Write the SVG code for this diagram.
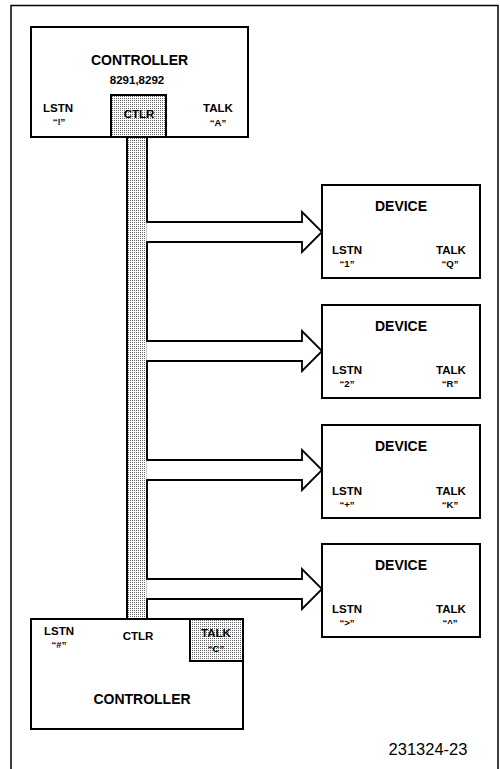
<svg xmlns="http://www.w3.org/2000/svg" width="500" height="769" viewBox="0 0 500 769">
<defs>
<pattern id="stipple" width="2" height="2" patternUnits="userSpaceOnUse">
<rect width="2" height="2" fill="#ffffff"/>
<rect width="1" height="1" fill="#666666"/>
</pattern>
<style>
.box{fill:#ffffff;stroke:#000;stroke-width:2}
.shade{fill:url(#stipple);stroke:#000;stroke-width:2}
.arrow{fill:#ffffff;stroke:#000;stroke-width:1.8;stroke-linejoin:miter}
.t{font-family:"Liberation Sans",Arial,Helvetica,sans-serif;font-weight:bold;fill:#000;text-anchor:middle}
.big{font-size:14px}
.mid{font-size:11.5px}
.sm{font-size:9.5px}
.fig{font-family:"Liberation Sans",Arial,Helvetica,sans-serif;font-size:16.5px;fill:#000;text-anchor:middle}
</style>
</defs>
<path d="M11,769 V5.5 H498 V769" fill="none" stroke="#000" stroke-width="1.5"/>
<g id="bus">
<rect x="127" y="137" width="20" height="482" class="shade" stroke-width="1.8"/>
</g>
<g id="connectors">
<path class="arrow" d="M146.2,222 H302 V212 L322,232 L302,252 V242 H146.2"/>
<path class="arrow" d="M146.2,341 H302 V331 L322,351 L302,371 V361 H146.2"/>
<path class="arrow" d="M146.2,460 H302 V450 L322,470 L302,490 V480 H146.2"/>
<path class="arrow" d="M146.2,579 H302 V569 L322,589 L302,609 V599 H146.2"/>
</g>
<g id="controller-top">
<rect x="31" y="27" width="217" height="110" class="box"/>
<text class="t big" x="139.5" y="65">CONTROLLER</text>
<text class="t" style="font-size:11.5px" x="137" y="84">8291,8292</text>
<text class="t mid" x="58" y="112">LSTN</text>
<text class="t sm" x="59" y="125">“!”</text>
<rect x="111" y="95" width="55" height="42" class="shade"/>
<text class="t mid" x="139" y="118">CTLR</text>
<text class="t mid" x="218" y="112">TALK</text>
<text class="t sm" x="218" y="126">“A”</text>
</g>
<g id="device-1">
<rect x="322" y="185" width="158" height="93" class="box"/>
<text class="t big" x="401" y="211">DEVICE</text>
<text class="t mid" x="347" y="254">LSTN</text>
<text class="t sm" x="347" y="267">“1”</text>
<text class="t mid" x="451" y="254">TALK</text>
<text class="t sm" x="450" y="267">“Q”</text>
</g>
<g id="device-2">
<rect x="322" y="305" width="158" height="93" class="box"/>
<text class="t big" x="401" y="331">DEVICE</text>
<text class="t mid" x="347" y="374">LSTN</text>
<text class="t sm" x="347" y="387">“2”</text>
<text class="t mid" x="451" y="374">TALK</text>
<text class="t sm" x="450" y="387">“R”</text>
</g>
<g id="device-3">
<rect x="322" y="425" width="158" height="93" class="box"/>
<text class="t big" x="401" y="451">DEVICE</text>
<text class="t mid" x="347" y="495">LSTN</text>
<text class="t sm" x="347" y="508">“+”</text>
<text class="t mid" x="451" y="495">TALK</text>
<text class="t sm" x="450" y="508">“K”</text>
</g>
<g id="device-4">
<rect x="322" y="544" width="158" height="93" class="box"/>
<text class="t big" x="401" y="570">DEVICE</text>
<text class="t mid" x="347" y="613">LSTN</text>
<text class="t sm" x="347" y="626">“&gt;”</text>
<text class="t mid" x="451" y="613">TALK</text>
<text class="t sm" x="450" y="626">“^”</text>
</g>
<g id="controller-bottom">
<rect x="31" y="619" width="212" height="110" class="box"/>
<rect x="190" y="619" width="53" height="42" class="shade"/>
<text class="t mid" x="59" y="635">LSTN</text>
<text class="t sm" x="59" y="648">“#”</text>
<text class="t mid" x="138" y="640">CTLR</text>
<text class="t mid" x="216" y="637">TALK</text>
<text class="t sm" x="216" y="652">“C”</text>
<text class="t big" x="142" y="704">CONTROLLER</text>
</g>
<text class="fig" x="428" y="755">231324-23</text>
</svg>
